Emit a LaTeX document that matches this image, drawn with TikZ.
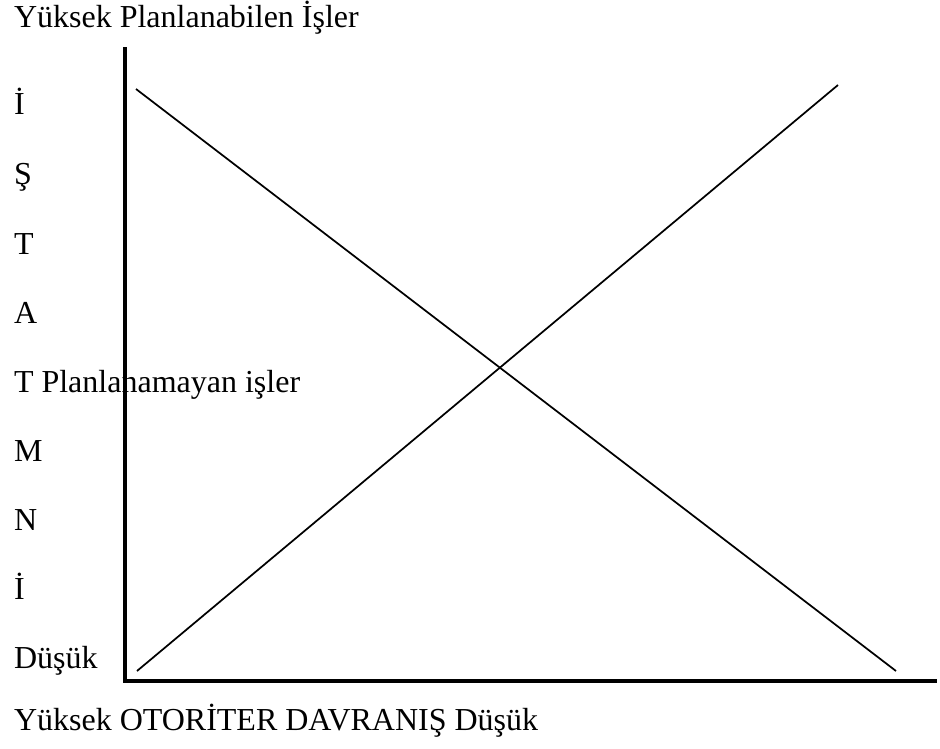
\documentclass[tikz,border=0pt]{standalone}
\usepackage{fontspec}
\setmainfont{Liberation Serif}
\begin{document}
\begin{tikzpicture}[x=0.75pt,y=-0.75pt,
  lbl/.style={anchor=base west,inner sep=0pt,outer sep=0pt,font=\fontsize{24}{28}\selectfont},
  axis/.style={line width=3pt,line cap=rect},
  diag/.style={line width=1.3pt}]
\useasboundingbox (0,0) rectangle (940,749);
\node[lbl] (top) at (14,28) {Yüksek Planlanabilen İşler};
\node[lbl] (l1) at (14,115) {İ};
\node[lbl] (l2) at (14,185) {Ş};
\node[lbl] (l3) at (14,254) {T};
\node[lbl] (l4) at (14,323) {A};
\node[lbl] (l5) at (14,392) {T Planlanamayan işler};
\node[lbl] (l6) at (14,461) {M};
\node[lbl] (l7) at (14,530) {N};
\node[lbl] (l8) at (14,599) {İ};
\node[lbl] (l9) at (14,668) {Düşük};
\node[lbl] (bot) at (14,730) {Yüksek OTORİTER DAVRANIŞ Düşük};
\coordinate (ytop) at (125,49);
\coordinate (origin) at (125,681);
\coordinate (xend) at (935,681);
\draw[axis] (ytop) -- (origin) -- (xend);
\coordinate (a1) at (136,89);
\coordinate (a2) at (896,671);
\coordinate (b1) at (137,671);
\coordinate (b2) at (838,85);
\draw[diag] (a1) -- (a2);
\draw[diag] (b1) -- (b2);
\end{tikzpicture}
\end{document}
